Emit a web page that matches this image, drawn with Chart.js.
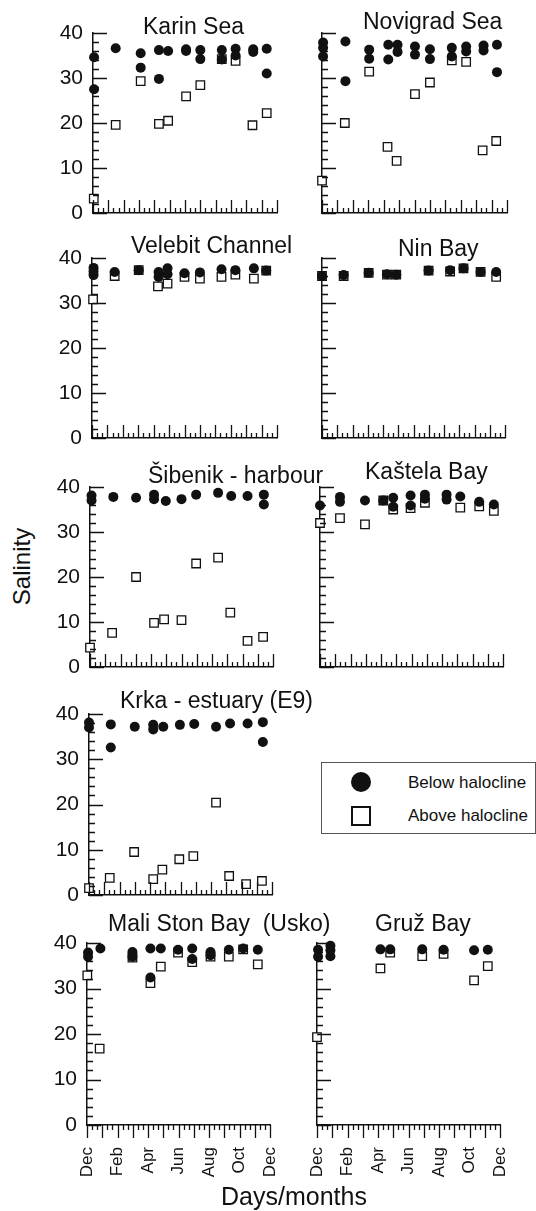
<!DOCTYPE html>
<html>
<head>
<meta charset="utf-8">
<script src="https://cdn.jsdelivr.net/npm/chart.js@4"></script>
<style>
  body { margin: 0; background: #fff; width: 536px; height: 1211px; position: relative; overflow: hidden;
         font-family: 'Liberation Sans', Arial, sans-serif; color: #111; }
  canvas { position: absolute; }
  .title { position: absolute; font-size: 23px; line-height: 23px; white-space: pre; }
  .axis-title { position: absolute; font-size: 25px; line-height: 25px; white-space: pre; }
  .legend { position: absolute; left: 321px; top: 762px; width: 213px; height: 70px; border: 1px solid #555; }
  .legend .dot { position: absolute; left: 29px; top: 9px; width: 20px; height: 20px; border-radius: 50%; background: #111; }
  .legend .box { position: absolute; left: 29px; top: 43px; width: 16px; height: 16px; border: 2px solid #111; background: #fff; }
  .legend .lbl { position: absolute; left: 86px; font-size: 17px; line-height: 17px; }
</style>
</head>
<body>
<div id="wrap"></div>
<script>
// Salinity below / above halocline, x = months since 1 Dec, y = salinity
const monthLabels = ['Dec', 'Feb', 'Apr', 'Jun', 'Aug', 'Oct', 'Dec'];
const yTicks = [0, 10, 20, 30, 40];

const karinBelow = [[0.07,34.6],[0.07,27.5],[1.48,36.6],[3.11,35.5],[3.11,32.3],[4.3,36.2],[4.3,29.8],[4.9,36.0],[6.07,36.4],[6.07,36.0],[7.0,36.2],[7.0,34.2],[8.4,36.2],[8.4,34.1],[9.3,36.5],[9.3,35.0],[10.45,36.4],[10.45,35.8],[11.33,36.5],[11.33,31.0]];
const karinAbove = [[0.05,3.2],[1.48,19.6],[3.11,29.3],[4.3,19.8],[4.9,20.5],[6.07,25.9],[7.0,28.4],[8.4,34.2],[9.3,33.8],[10.4,19.5],[11.33,22.2]];

const novigradBelow = [[0.07,37.9],[0.07,36.7],[0.07,34.8],[1.52,38.1],[1.52,29.3],[3.06,36.3],[3.06,34.3],[4.3,37.4],[4.3,34.1],[4.9,37.4],[4.9,35.8],[6.03,37.0],[6.03,35.2],[7.0,36.4],[7.0,34.2],[8.42,36.7],[8.42,34.8],[9.35,37.0],[9.35,35.9],[10.48,37.2],[10.48,36.1],[11.35,37.4],[11.35,31.3]];
const novigradAbove = [[0.0,7.2],[1.48,20.0],[3.06,31.4],[4.25,14.7],[4.84,11.6],[6.03,26.4],[7.0,29.0],[8.42,33.9],[9.35,33.6],[10.42,13.9],[11.3,16.0]];

const velebitBelow = [[0.1,37.8],[0.1,37.0],[0.1,36.2],[1.47,36.9],[3.03,37.3],[4.32,36.9],[4.32,35.8],[4.9,37.7],[4.9,36.4],[6.0,36.6],[7.0,36.8],[8.4,37.5],[9.3,37.3],[10.5,37.7],[11.3,37.2]];
const velebitAbove = [[0.07,30.8],[1.47,36.0],[3.03,37.3],[4.28,33.7],[4.9,34.3],[6.0,35.8],[7.0,35.4],[8.4,35.8],[9.3,36.3],[10.5,35.4],[11.3,37.2]];

const ninBelow = [[0.0,36.0],[1.42,36.2],[3.06,36.7],[4.26,36.4],[4.87,36.3],[6.99,37.2],[8.4,37.3],[9.28,37.7],[10.4,36.9],[11.42,36.9]];
const ninAbove = [[0.0,36.0],[1.42,36.0],[3.06,36.7],[4.26,36.3],[4.87,36.3],[6.99,37.2],[8.4,37.0],[9.28,37.7],[10.4,36.9],[11.42,35.8]];

const sibenikBelow = [[0.1,38.1],[0.1,37.0],[1.53,37.8],[3.02,37.6],[4.2,38.3],[4.2,37.3],[4.97,36.9],[6.0,37.3],[6.96,38.3],[8.4,38.7],[9.26,38.0],[10.33,38.0],[11.4,38.3],[11.4,36.1]];
const sibenikAbove = [[0.0,4.3],[1.45,7.6],[3.02,20.0],[4.2,9.8],[4.86,10.6],[6.0,10.4],[6.96,23.0],[8.4,24.3],[9.2,12.1],[10.33,5.8],[11.35,6.7]];

const kastelaBelow = [[0.0,35.9],[1.31,37.8],[1.31,36.7],[2.95,37.0],[4.15,37.0],[4.8,37.6],[4.8,35.6],[5.94,38.1],[5.94,35.9],[6.88,38.3],[6.88,37.4],[8.3,38.3],[8.3,37.2],[9.2,37.9],[10.44,36.7],[11.4,36.1]];
const kastelaAbove = [[0.0,32.0],[1.31,33.1],[2.95,31.7],[4.15,37.0],[4.8,35.0],[5.94,35.3],[6.88,36.5],[9.2,35.4],[10.44,35.7],[11.4,34.7]];

const krkaBelow = [[0.0,38.1],[0.0,37.0],[1.43,37.7],[1.43,32.6],[3.0,37.2],[4.21,37.6],[4.21,36.6],[4.87,37.2],[5.96,37.6],[6.9,37.8],[8.33,37.2],[9.25,37.9],[10.4,37.9],[11.4,38.2],[11.4,33.8]];
const krkaAbove = [[0.0,1.5],[1.36,3.8],[2.96,9.5],[4.21,3.5],[4.81,5.6],[5.92,7.9],[6.84,8.6],[8.33,20.4],[9.19,4.2],[10.3,2.4],[11.34,3.1]];

const maliStonBelow = [[0.07,37.9],[0.07,37.0],[0.88,38.8],[2.98,38.0],[2.98,37.0],[4.16,38.8],[4.16,32.4],[4.84,38.8],[5.97,38.5],[6.9,38.8],[6.9,36.5],[8.1,38.0],[8.1,37.3],[9.3,38.5],[10.24,38.8],[11.2,38.5]];
const maliStonAbove = [[0.02,32.9],[0.83,16.8],[2.98,36.8],[4.16,31.2],[4.84,34.8],[5.97,37.9],[6.9,35.8],[8.1,37.0],[9.3,37.0],[10.24,38.6],[11.2,35.3]];

const gruzBelow = [[0.07,38.5],[0.07,37.0],[0.88,39.4],[0.88,38.4],[0.88,37.1],[4.16,38.6],[4.8,38.6],[6.9,38.6],[8.3,38.5],[10.3,38.4],[11.2,38.5]];
const gruzAbove = [[0.0,19.3],[4.16,34.4],[4.8,37.9],[6.9,37.1],[8.3,37.6],[10.3,31.8],[11.2,34.9]];

const FONT = "'Liberation Sans', Arial, sans-serif";
const PAD_L = 55, PAD_T = 12, PAD_R = 12;

// area = [left, top(40), right, bottom(0)] of the plot in page pixels
const panels = [
  { title: 'Karin Sea', below: karinBelow, above: karinAbove, area: [93, 33, 277, 213], titleAt: [143, 15], yLabels: true },
  { title: 'Novigrad Sea', below: novigradBelow, above: novigradAbove, area: [322, 33, 507, 213], titleAt: [363, 10], yLabels: false },
  { title: 'Velebit Channel', below: velebitBelow, above: velebitAbove, area: [92, 258, 277, 438], titleAt: [131, 234], yLabels: true },
  { title: 'Nin Bay', below: ninBelow, above: ninAbove, area: [322, 258, 505, 438], titleAt: [398, 237], yLabels: false },
  { title: 'Šibenik - harbour', below: sibenikBelow, above: sibenikAbove, area: [90, 487, 273, 667], titleAt: [148, 464], yLabels: true },
  { title: 'Kaštela Bay', below: kastelaBelow, above: kastelaAbove, area: [320, 487, 503, 667], titleAt: [365, 460], yLabels: false },
  { title: 'Krka - estuary (E9)', below: krkaBelow, above: krkaAbove, area: [89, 714, 272, 895], titleAt: [120, 689], yLabels: true },
  { title: 'Mali Ston Bay  (Usko)', below: maliStonBelow, above: maliStonAbove, area: [87, 943, 270, 1125], titleAt: [108, 912], yLabels: true, months: true },
  { title: 'Gruž Bay', below: gruzBelow, above: gruzAbove, area: [317, 943, 500, 1125], titleAt: [375, 912], yLabels: false, months: true }
];

// inward y ticks, inward (or outward on the bottom row) x ticks with minor marks
const tickMarks = {
  id: 'tickMarks',
  afterDraw(chart, args, opts) {
    const { ctx, chartArea } = chart;
    const xs = chart.scales.x, ys = chart.scales.y;
    ctx.save();
    ctx.strokeStyle = '#111';
    ctx.lineWidth = 1.3;
    ctx.beginPath();
    for (let v = 0; v <= 40; v += 2) {
      const py = Math.round(ys.getPixelForValue(v)) + 0.5;
      const len = yTicks.includes(v) ? 14 : 6;
      ctx.moveTo(chartArea.left, py);
      ctx.lineTo(chartArea.left + len, py);
    }
    const dir = opts.outward ? 1 : -1;
    for (let i = 0; i <= 36; i++) {
      const px = Math.round(xs.getPixelForValue(i / 3)) + 0.5;
      const len = i % 3 === 0 ? 13 : 5;
      ctx.moveTo(px, chartArea.bottom);
      ctx.lineTo(px, chartArea.bottom + dir * len);
    }
    ctx.stroke();
    ctx.restore();
  }
};

// fixed scale sizes so every plot area lands where the picture has it
function fixSize(w, h) {
  return s => {
    if (w !== null) s.width = w;
    if (h !== null) s.height = h;
    s.paddingTop = s.paddingBottom = s.paddingLeft = s.paddingRight = 0;
  };
}

const toPoints = arr => arr.map(p => ({ x: p[0], y: p[1] }));
const wrap = document.getElementById('wrap');

panels.forEach(p => {
  const [l, t, r, b] = p.area;
  const bottomSpace = p.months ? 70 : 16;
  const canvas = document.createElement('canvas');
  canvas.width = r - l + PAD_L + PAD_R;
  canvas.height = b - t + PAD_T + bottomSpace;
  canvas.style.left = (l - PAD_L) + 'px';
  canvas.style.top = (t - PAD_T) + 'px';
  wrap.appendChild(canvas);

  const title = document.createElement('div');
  title.className = 'title';
  title.textContent = p.title;
  title.style.left = p.titleAt[0] + 'px';
  title.style.top = p.titleAt[1] + 'px';
  wrap.appendChild(title);

  new Chart(canvas, {
    type: 'scatter',
    data: {
      datasets: [
        { label: 'Below halocline', data: toPoints(p.below), pointStyle: 'circle', pointRadius: 5,
          backgroundColor: '#111', borderColor: '#111', borderWidth: 0, clip: false },
        { label: 'Above halocline', data: toPoints(p.above), pointStyle: 'rect', pointRadius: 6,
          backgroundColor: '#fff', borderColor: '#111', borderWidth: 1.3, clip: false }
      ]
    },
    options: {
      responsive: false,
      animation: false,
      layout: { autoPadding: false, padding: { left: 0, top: PAD_T, right: PAD_R, bottom: 0 } },
      plugins: { legend: { display: false }, tooltip: { enabled: false }, tickMarks: { outward: !!p.months } },
      scales: {
        x: {
          type: 'linear', min: 0, max: 12,
          grid: { display: false, drawTicks: false },
          border: { display: true, color: '#111', width: 1.5 },
          ticks: {
            display: !!p.months, stepSize: 2, autoSkip: false, minRotation: 90, maxRotation: 90,
            padding: 22, color: '#111', font: { family: FONT, size: 17 },
            callback: v => monthLabels[v / 2]
          },
          afterFit: fixSize(null, bottomSpace)
        },
        y: {
          min: 0, max: 40,
          grid: { display: false, drawTicks: false },
          border: { display: true, color: '#111', width: 1.5 },
          ticks: { display: p.yLabels, stepSize: 10, padding: 10, color: '#111', font: { family: FONT, size: 21 } },
          afterFit: fixSize(PAD_L, null)
        }
      }
    },
    plugins: [tickMarks]
  });
});
</script>
<div class="axis-title" style="left:-29px; top:554px; width:100px; text-align:center; font-size:24px; transform:rotate(-90deg);">Salinity</div>
<div class="axis-title" style="left:221px; top:1184px;">Days/months</div>
<div class="legend">
  <div class="dot"></div>
  <div class="lbl" style="top:11px;">Below halocline</div>
  <div class="box"></div>
  <div class="lbl" style="top:44px;">Above halocline</div>
</div>
</body>
</html>
